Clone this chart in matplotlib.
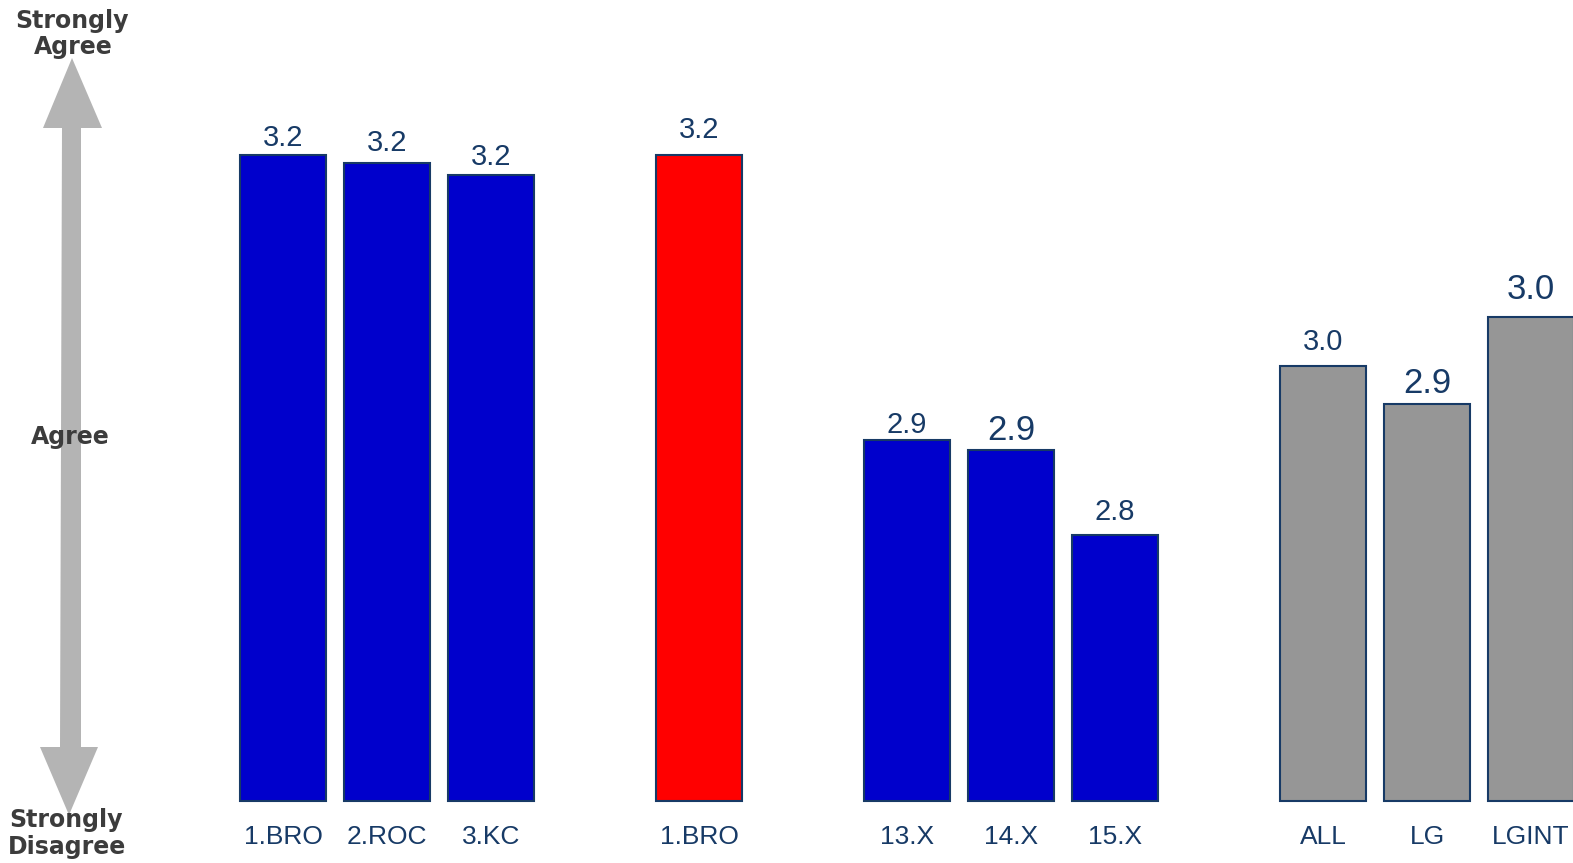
import matplotlib
matplotlib.use("Agg")
import matplotlib.pyplot as plt
from matplotlib.patches import Polygon

# data
categories = ["1.BRO", "2.ROC", "3.KC", "1.BRO", "13.X", "14.X", "15.X", "ALL", "LG", "LGINT"]
positions = [0, 1, 2, 4, 6, 7, 8, 10, 11, 12]
values = [3.20, 3.192, 3.179, 3.20, 2.90, 2.89, 2.80, 2.978, 2.938, 3.03]
base = 2.52

# styling
bar_colors = ["#0000cc"] * 3 + ["#ff0000"] + ["#0000cc"] * 3 + ["#969696"] * 3
label_sizes = [21, 21, 21, 21, 21, 25, 21, 21, 25, 25]
label_gap_px = [9, 12, 10, 17, 7, 10, 15, 16, 11, 18]
navy = "#173a66"
W, H, DPI = 1573, 863, 100
px = 72.0 / DPI  # pixels -> points

plt.rcParams["font.family"] = ["Liberation Sans", "DejaVu Sans"]

fig = plt.figure(figsize=(W / DPI, H / DPI), dpi=DPI)
ax = fig.add_axes([0, 0, 1, 1])
ax.axis("off")

# pixel mapping: bar centre 0 at x=283, pitch 104 px; baseline at y=801, 950 px per unit
pitch = 104.0
x0, y0, yscale = 283, 801, 950
ax.set_xlim(-x0 / pitch, (W - x0) / pitch)
ax.set_ylim(base - (H - y0) / yscale, base + y0 / yscale)

heights = [v - base for v in values]
ax.bar(positions, heights, bottom=base, width=86.3 / pitch, color=bar_colors,
       edgecolor=navy, linewidth=1.5, zorder=2)

for p, v, c, s, g in zip(positions, values, categories, label_sizes, label_gap_px):
    ax.annotate(f"{v:.1f}", xy=(p, v), xytext=(0, g * px), textcoords="offset points",
                ha="center", va="baseline", fontsize=s, color=navy)
    ax.annotate(c, xy=(p, base), xytext=(0, -43 * px), textcoords="offset points",
                ha="center", va="baseline", fontsize=19, color=navy)

# decorative double arrow on the left, drawn in pixel space
deco = fig.add_axes([0, 0, 1, 1])
deco.axis("off")
deco.set_xlim(0, W)
deco.set_ylim(H, 0)
deco.patch.set_alpha(0)
arrow_pts = [(62, 128), (43, 128), (72, 58), (102, 128), (81, 128),
             (81, 747), (98, 747), (69, 815), (40, 747), (60, 747)]
deco.add_patch(Polygon(arrow_pts, closed=True, facecolor="#b4b4b4", edgecolor="none"))

txt = dict(ha="center", va="center", fontsize=17, fontweight="bold",
           color="#3c3c3c", family="DejaVu Sans")
deco.text(72, 21, "Strongly", **txt)
deco.text(73, 47, "Agree", **txt)
deco.text(70, 437, "Agree", **txt)
deco.text(66, 820, "Strongly", **txt)
deco.text(67, 847, "Disagree", **txt)

fig.savefig("out.png", dpi=DPI)
